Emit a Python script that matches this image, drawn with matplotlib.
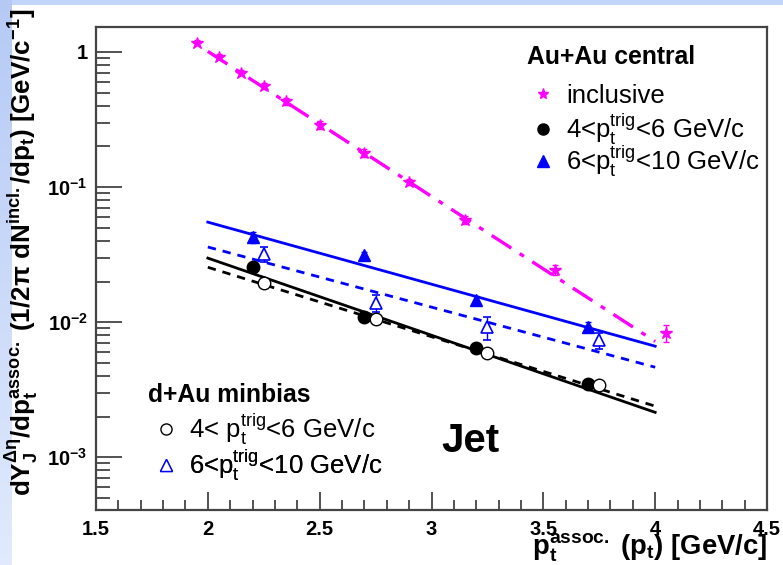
import numpy as np
import matplotlib
matplotlib.use("Agg")
import matplotlib.pyplot as plt
from matplotlib.lines import Line2D
from matplotlib.ticker import FixedLocator, FuncFormatter, LogLocator, NullFormatter, MultipleLocator

plt.rcParams['font.family'] = ['Liberation Sans', 'DejaVu Sans']
plt.rcParams['mathtext.fontset'] = 'custom'
plt.rcParams['mathtext.rm'] = 'Liberation Sans'
plt.rcParams['mathtext.it'] = 'Liberation Sans:italic'
plt.rcParams['mathtext.bf'] = 'Liberation Sans:bold'
plt.rcParams['mathtext.sf'] = 'Liberation Sans'

# ---- data ----
inc_x = [1.95, 2.05, 2.15, 2.25, 2.35, 2.5, 2.7, 2.9, 3.15, 3.55, 4.05]
inc_y = [1.17, 0.92, 0.70, 0.56, 0.43, 0.29, 0.178, 0.109, 0.057, 0.0243, 0.0083]
inc_err = [0.05, 0.04, 0.03, 0.03, 0.025, 0.02, 0.012, 0.006, 0.004, 0.002, 0.0012]

auau46_x = [2.2, 2.7, 3.2, 3.7]
auau46_y = [0.0255, 0.0109, 0.0064, 0.00347]
auau46_err = [0.0012, 0.0005, 0.0003, 0.0002]

dau46_x = [2.25, 2.75, 3.25, 3.75]
dau46_y = [0.0194, 0.0105, 0.0059, 0.0034]
dau46_err = [0.0010, 0.0005, 0.0003, 0.0002]

auau610_x = [2.2, 2.7, 3.2, 3.7]
auau610_y = [0.0426, 0.0313, 0.01456, 0.0092]
auau610_err = [0.004, 0.002, 0.001, 0.0008]

dau610_x = [2.25, 2.75, 3.25, 3.75]
dau610_y = [0.0319, 0.0138, 0.0092, 0.00736]
dau610_err = [0.004, 0.002, 0.0018, 0.001]

# exponential fits, straight on log scale: endpoints only
fit_x = [2.0, 4.0]
inc_fit = [1.01, 0.0072]
auau46_fit = [0.0298, 0.00215]
dau46_fit = [0.0255, 0.00239]
auau610_fit = [0.055, 0.00664]
dau610_fit = [0.036, 0.00464]

magenta = '#ff00ff'
blue = '#0000ff'

fig = plt.figure(figsize=(7.83, 5.65), dpi=100)

# slide-like background: light blue strip on top and a gradient on the left
bg = fig.add_axes([0, 0, 1, 1], zorder=-5)
H, W = 565, 783
img = np.ones((H, W, 3))
img[:5, :, :] = [0.76, 0.84, 0.98]
top_c = np.array([0.71, 0.79, 0.96])
bot_c = np.array([0.88, 0.92, 0.99])
t = np.linspace(0, 1, H)[:, None]
img[:, :12, :] = (top_c * (1 - t) + bot_c * t)[:, None, :]
bg.imshow(img, aspect='auto', extent=[0, 1, 0, 1])
bg.axis('off')

ax = fig.add_axes([0.1226, 0.0973, 0.8570, 0.8549])
ax.set_yscale('log')
ax.set_xlim(1.5, 4.5)
ax.set_ylim(4.07e-4, 1.53)

# fit lines
ax.plot(fit_x, inc_fit, color=magenta, lw=2.4, dashes=(7, 3, 1.5, 3))
ax.plot(fit_x, auau610_fit, color=blue, lw=2.0)
ax.plot(fit_x, dau610_fit, color=blue, lw=2.0, dashes=(3, 2.5))
ax.plot(fit_x, auau46_fit, color='black', lw=2.0)
ax.plot(fit_x, dau46_fit, color='black', lw=2.0, dashes=(3, 2.5))

# data points
ax.errorbar(inc_x, inc_y, yerr=inc_err, fmt='*', color=magenta, ms=9, capsize=2, elinewidth=1)
ax.errorbar(auau610_x, auau610_y, yerr=auau610_err, fmt='^', color=blue, ms=9, capsize=2, elinewidth=1)
ax.errorbar(dau610_x, dau610_y, yerr=dau610_err, fmt='^', color=blue, mfc='white', ms=9,
            capsize=3, elinewidth=1, mew=1.2)
ax.errorbar(auau46_x, auau46_y, yerr=auau46_err, fmt='o', color='black', ms=9, capsize=2, elinewidth=1)
ax.errorbar(dau46_x, dau46_y, yerr=dau46_err, fmt='o', color='black', mfc='white', ms=9,
            capsize=2, elinewidth=1, mew=1.0)

# axes style (ROOT-like)
for side in ['left', 'bottom', 'right', 'top']:
    ax.spines[side].set_color('#444444')
    ax.spines[side].set_linewidth(1.6)

ax.xaxis.set_major_locator(MultipleLocator(0.5))
ax.xaxis.set_minor_locator(MultipleLocator(0.1))
ax.xaxis.set_major_formatter(FuncFormatter(lambda v, p: '{:g}'.format(v)))
ax.yaxis.set_major_locator(FixedLocator([1e-3, 1e-2, 1e-1, 1]))
ax.yaxis.set_minor_locator(LogLocator(base=10, subs=np.arange(2, 10)))
ax.yaxis.set_minor_formatter(NullFormatter())


def ylab(v, p):
    if v == 1:
        return '1'
    return r'$\mathbf{10^{%d}}$' % int(round(np.log10(v)))


ax.yaxis.set_major_formatter(FuncFormatter(ylab))
ax.tick_params(axis='both', which='both', direction='in', top=False, right=False, color='#444444')
ax.tick_params(axis='x', which='major', length=13, width=1.3, pad=7)
ax.tick_params(axis='x', which='minor', length=7, width=1.3)
ax.tick_params(axis='y', which='major', length=19, width=1.3, pad=6)
ax.tick_params(axis='y', which='minor', length=10, width=1.3)
for lab in ax.get_xticklabels() + ax.get_yticklabels():
    lab.set_fontsize(14.5)
    lab.set_fontweight('bold')

ax.set_xlabel(r'$\mathbf{p_t^{assoc.}\ (p_t)\ [GeV/c]}$', fontsize=19.8, ha='right', va='top')
ax.xaxis.set_label_coords(1.0, -0.045)
ax.set_ylabel(r'$\mathbf{dY_J^{\Delta\eta}/dp_t^{assoc.}\ (1/2\pi\ dN^{incl.}/dp_t)\ [GeV/c^{-1}]}$',
              fontsize=18.7)
ax.yaxis.set_label_coords(-0.083, 0.534)

ax.text(0.515, 0.12, 'Jet', transform=ax.transAxes, fontsize=29, fontweight='bold', ha='left', va='baseline')


# legends: one row per entry so the rows can sit where the reference has them
def legend_row(handle, label, x, y):
    leg = ax.legend([handle], [label], loc='center left', bbox_to_anchor=(x, y), frameon=False,
                    fontsize=18.5, handlelength=1.2, handletextpad=0.3, borderpad=0.0, borderaxespad=0.0)
    ax.add_artist(leg)


ax.text(0.642, 0.938, 'Au+Au central', transform=ax.transAxes, fontsize=17.8, fontweight='bold',
        ha='left', va='center')
legend_row(Line2D([], [], marker='*', color=magenta, ls='none', ms=8), 'inclusive', 0.643, 0.857)
legend_row(Line2D([], [], marker='o', color='black', ls='none', ms=8),
           r'4<p$_\mathrm{t}^\mathrm{trig}$<6 GeV/c', 0.643, 0.788)
legend_row(Line2D([], [], marker='^', color=blue, ls='none', ms=8),
           r'6<p$_\mathrm{t}^\mathrm{trig}$<10 GeV/c', 0.643, 0.722)

ax.text(0.0775, 0.238, 'd+Au minbias', transform=ax.transAxes, fontsize=17.8, fontweight='bold',
        ha='left', va='center')
legend_row(Line2D([], [], marker='o', color='black', mfc='white', ls='none', ms=8),
           r'4< p$_\mathrm{t}^\mathrm{trig}$<6 GeV/c', 0.0814, 0.167)
legend_row(Line2D([], [], marker='^', color=blue, mfc='white', ls='none', ms=8),
           r'6<p$_\mathrm{t}^\mathrm{trig}$<10 GeV/c', 0.0814, 0.093)

fig.savefig('out.png', dpi=100)
